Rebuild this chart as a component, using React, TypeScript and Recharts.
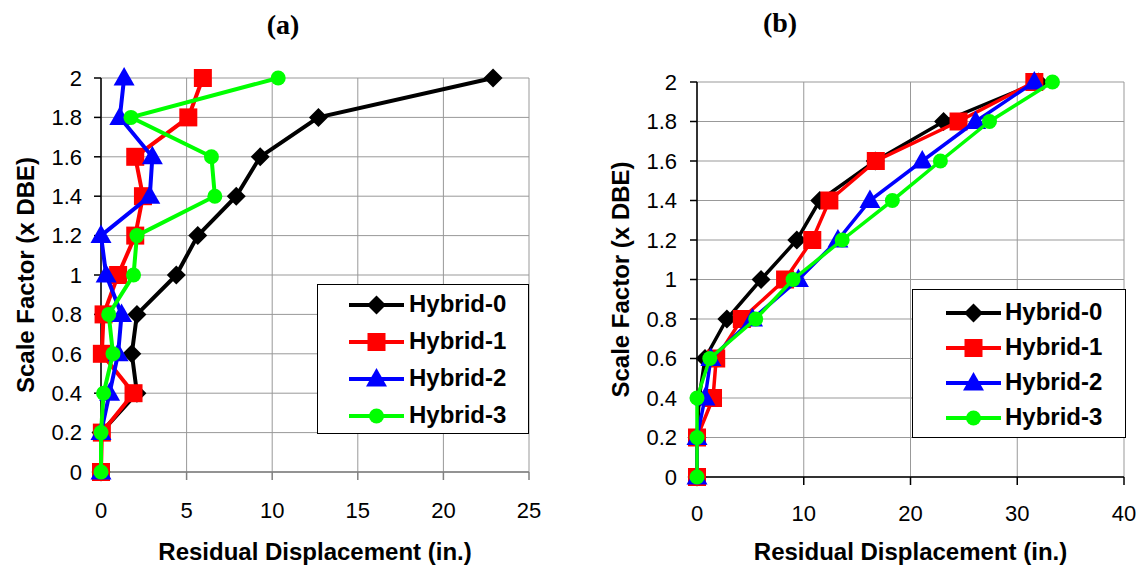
import React from "react";
import {
  ScatterChart,
  Scatter,
  XAxis,
  YAxis,
  CartesianGrid,
  Legend,
  Label,
} from "recharts";

// scale factor levels (x DBE), shared by both panels
const scaleFactors = [0, 0.2, 0.4, 0.6, 0.8, 1, 1.2, 1.4, 1.6, 1.8, 2];
const yTicks = [0, 0.2, 0.4, 0.6, 0.8, 1, 1.2, 1.4, 1.6, 1.8, 2];

// panel (a) residual displacement (in.)
const hybrid0A = [0, 0, 2.1, 1.8, 2.1, 4.4, 5.65, 7.9, 9.3, 12.7, 22.9];
const hybrid1A = [0, 0.05, 1.9, 0.05, 0.15, 1.0, 2.0, 2.45, 2.0, 5.1, 5.95];
const hybrid2A = [0, 0, 0.5, 1.0, 1.2, 0.3, 0, 2.85, 3.0, 1.1, 1.35];
const hybrid3A = [0, 0, 0.15, 0.7, 0.45, 1.9, 2.1, 6.65, 6.45, 1.75, 10.35];
const xTicksA = [0, 5, 10, 15, 20, 25];

// panel (b) residual displacement (in.)
const hybrid0B = [0, 0, 0.2, 0.75, 2.8, 6.0, 9.35, 11.5, 16.7, 23.1, 32];
const hybrid1B = [0, 0, 1.5, 1.8, 4.2, 8.25, 10.8, 12.4, 16.75, 24.5, 31.6];
const hybrid2B = [0, 0, 0.75, 1.3, 5.2, 9.5, 13.2, 16.2, 21.1, 26.1, 31.6];
const hybrid3B = [0, 0, 0, 1.2, 5.5, 9.0, 13.6, 18.3, 22.8, 27.4, 33.3];
const xTicksB = [0, 10, 20, 30, 40];

const seriesNames = ["Hybrid-0", "Hybrid-1", "Hybrid-2", "Hybrid-3"];
const seriesColors = ["#000000", "#ff0000", "#0000ff", "#00ff00"];
const seriesShapes = ["diamond", "square", "triangle", "circle"];

const toPoints = (xs: number[]) => xs.map((x, i) => ({ x, y: scaleFactors[i] }));

const Marker = ({ kind, cx, cy, color }: { kind: string; cx: number; cy: number; color: string }) => {
  if (kind === "diamond") {
    return <polygon points={`${cx},${cy - 9.5} ${cx + 9.5},${cy} ${cx},${cy + 9.5} ${cx - 9.5},${cy}`} fill={color} />;
  }
  if (kind === "square") {
    return <rect x={cx - 9} y={cy - 9} width={18} height={18} fill={color} />;
  }
  if (kind === "triangle") {
    return <polygon points={`${cx},${cy - 11} ${cx + 10.5},${cy + 7.5} ${cx - 10.5},${cy + 7.5}`} fill={color} />;
  }
  return <circle cx={cx} cy={cy} r={7.5} fill={color} />;
};

const LegendBox = ({ width, height, firstRow, rowGap, lineX0, lineX1, textX }: any) => (
  <div
    style={{
      position: "relative",
      width,
      height,
      border: "1.5px solid #000",
      background: "#fff",
      boxSizing: "border-box",
    }}
  >
    {seriesNames.map((name, i) => {
      const cy = firstRow + i * rowGap;
      return (
        <div key={name}>
          <svg style={{ position: "absolute", left: 0, top: cy - 15 }} width={lineX1 + 4} height={30}>
            <line x1={lineX0} x2={lineX1} y1={15} y2={15} stroke={seriesColors[i]} strokeWidth={4} />
            <Marker kind={seriesShapes[i]} cx={(lineX0 + lineX1) / 2} cy={15} color={seriesColors[i]} />
          </svg>
          <span
            style={{
              position: "absolute",
              left: textX,
              top: cy - 16,
              lineHeight: "30px",
              fontSize: 24,
              fontWeight: "bold",
              color: "#000",
              whiteSpace: "nowrap",
            }}
          >
            {name}
          </span>
        </div>
      );
    })}
  </div>
);

function Panel(props: any) {
  const {
    series, xMax, xTicks, width, margin, yAxisWidth, xAxisHeight, yLabelOffset,
    xTickMargin, yTickMargin, xAxisColor, lineWidth, legend,
  } = props;
  return (
    <ScatterChart width={width} height={567} margin={margin}>
      <CartesianGrid stroke="#999" strokeWidth={1} />
      <XAxis
        type="number"
        dataKey="x"
        domain={[0, xMax]}
        ticks={xTicks}
        interval={0}
        tick={{ fontSize: 22, fill: "#000" }}
        tickSize={8}
        tickMargin={xTickMargin}
        axisLine={{ stroke: xAxisColor, strokeWidth: 1.5 }}
        tickLine={{ stroke: xAxisColor, strokeWidth: 1.5 }}
        height={xAxisHeight}
      >
        <Label
          value="Residual Displacement (in.)"
          position="insideBottom"
          offset={2}
          style={{ fontSize: 24, fontWeight: "bold", fill: "#000" }}
        />
      </XAxis>
      <YAxis
        type="number"
        dataKey="y"
        domain={[0, 2]}
        ticks={yTicks}
        interval={0}
        tick={{ fontSize: 22, fill: "#000" }}
        tickSize={7}
        tickMargin={yTickMargin}
        axisLine={{ stroke: "#000", strokeWidth: 1.5 }}
        tickLine={{ stroke: "#000", strokeWidth: 1.5 }}
        width={yAxisWidth}
      >
        <Label
          value="Scale Factor (x DBE)"
          angle={-90}
          position="insideLeft"
          offset={yLabelOffset}
          style={{ textAnchor: "middle", fontSize: 24, fontWeight: "bold", fill: "#000" }}
        />
      </YAxis>
      <Legend
        layout="horizontal"
        verticalAlign="middle"
        align="center"
        wrapperStyle={{ left: legend.left, top: legend.top, width: legend.width, height: legend.height }}
        content={() => <LegendBox {...legend} />}
      />
      {series.map((xs: number[], i: number) => (
        <Scatter
          key={seriesNames[i]}
          name={seriesNames[i]}
          data={toPoints(xs)}
          fill={seriesColors[i]}
          line={{ stroke: seriesColors[i], strokeWidth: lineWidth }}
          shape={(p: any) => <Marker kind={seriesShapes[i]} cx={p.cx} cy={p.cy} color={seriesColors[i]} />}
          isAnimationActive={false}
        />
      ))}
    </ScatterChart>
  );
}

export default function App() {
  const titleStyle: React.CSSProperties = {
    position: "absolute",
    width: 80,
    textAlign: "center",
    lineHeight: "34px",
    fontSize: 28,
    fontWeight: "bold",
    fontFamily: "'Liberation Serif', 'Times New Roman', serif",
  };
  return (
    <div
      style={{
        position: "absolute",
        left: 0,
        top: 0,
        width: 1143,
        height: 567,
        background: "#fff",
        fontFamily: "'Liberation Sans', Arial, sans-serif",
      }}
    >
      <div style={{ ...titleStyle, left: 243, top: 8 }}>(a)</div>
      <div style={{ ...titleStyle, left: 740, top: 6 }}>(b)</div>
      <div style={{ position: "absolute", left: 0, top: 0 }}>
        <Panel
          series={[hybrid0A, hybrid1A, hybrid2A, hybrid3A]}
          xMax={25}
          xTicks={xTicksA}
          width={560}
          margin={{ top: 78, right: 31, bottom: 5, left: 10 }}
          yAxisWidth={91}
          xAxisHeight={90}
          yLabelOffset={15}
          xTickMargin={22}
          yTickMargin={12}
          xAxisColor="#808080"
          lineWidth={4}
          legend={{ left: 317, top: 284, width: 212, height: 150, firstRow: 20, rowGap: 37, lineX0: 31, lineX1: 86, textX: 91 }}
        />
      </div>
      <div style={{ position: "absolute", left: 570, top: 0 }}>
        <Panel
          series={[hybrid0B, hybrid1B, hybrid2B, hybrid3B]}
          xMax={40}
          xTicks={xTicksB}
          width={573}
          margin={{ top: 82, right: 19, bottom: 5, left: 30 }}
          yAxisWidth={97}
          xAxisHeight={85}
          yLabelOffset={20}
          xTickMargin={20}
          yTickMargin={13}
          xAxisColor="#000"
          lineWidth={3.5}
          legend={{ left: 342, top: 289, width: 214, height: 149, firstRow: 23, rowGap: 35, lineX0: 33, lineX1: 88, textX: 92 }}
        />
      </div>
    </div>
  );
}
